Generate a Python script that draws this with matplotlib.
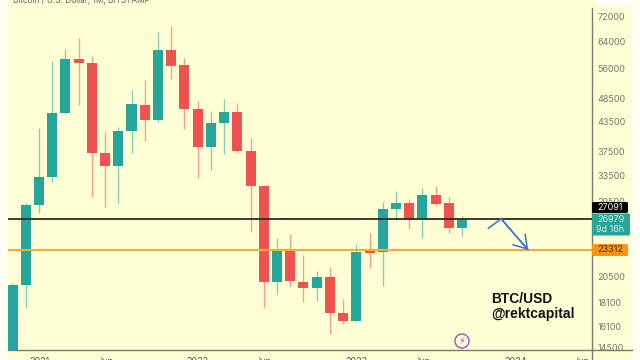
#!/usr/bin/env python3
import matplotlib
matplotlib.use("Agg")
import matplotlib.pyplot as plt
from matplotlib.patches import Circle, FancyBboxPatch, Rectangle
from matplotlib.ticker import FixedLocator, FixedFormatter, NullLocator

plt.rcParams["font.family"] = ["Inter", "DejaVu Sans"]

W, H = 640, 360
BG = "#FFFFD6"
UP = "#26A69A"
DOWN = "#EF5350"
AXIS = "#7A7A70"

# monthly candles, Nov 2020 onwards
opens = [13800, 19665, 28970, 33127, 45167, 58747, 57709, 37322, 34993, 41515,
         47060, 43723, 61366, 57068, 46182, 38417, 43093, 45450, 37573, 31800,
         19953, 23297, 19982, 19382, 20469, 17146, 16495, 23185, 23073, 28413,
         29280, 27031, 30407, 29210, 25877]
closes = [19665, 28970, 33127, 45167, 58747, 57709, 37322, 34993, 41515, 47177,
          43723, 61366, 56866, 46182, 38417, 43154, 45516, 37573, 31717, 19924,
          23297, 20050, 19382, 20469, 17146, 16495, 23073, 23017, 28454, 29210,
          27031, 30407, 29153, 25877, 26979]
highs = [19828, 29295, 41998, 58268, 61755, 64940, 59611, 41314, 42322, 50559,
         53068, 66958, 69036, 58946, 47936, 45737, 48333, 47405, 40013, 31916,
         24655, 25208, 22740, 21044, 21423, 18349, 23949, 25258, 29350, 31002,
         29823, 31408, 31803, 30155, 27465]
lows = [13800, 17566, 27829, 32384, 45000, 47018, 30155, 28647, 29295, 37322,
        39553, 43303, 53325, 41919, 32968, 34320, 37140, 37520, 25419, 17592,
        18765, 19503, 18137, 18199, 15489, 16304, 16450, 21350, 19569, 26940,
        25790, 24727, 28870, 25334, 24930]

y_ticks = [72000, 64000, 56000, 48500, 43500, 37500, 33500, 29500,
           20500, 18100, 16100, 14500]
x_ticks = [2, 7, 14, 19, 26, 31, 38, 43]
x_labels = ["2021", "Jun", "2022", "Jun", "2023", "Jun", "2024", "Jun"]

level_black = 27091
level_orange = 23312
last_price = 26979
countdown = "9d 16h"

arrow_x = [35.97, 36.95, 39.0]
arrow_y = [25866, 27100, 23297]

fig = plt.figure(figsize=(W / 100, H / 100), dpi=100, facecolor="white")

# pixel-coordinate layers, one behind the chart and one on top of it
back = fig.add_axes([0, 0, 1, 1], zorder=0)
back.set_xlim(0, W)
back.set_ylim(H, 0)
back.axis("off")
back.add_patch(Rectangle((0, 0), W, H, facecolor="#FFFFF4", edgecolor="none"))
back.add_patch(Rectangle((7.5, 0), 624.5, H, facecolor=BG, edgecolor="none"))

ax = fig.add_axes([7.5 / W, 1 - 350.3 / H, (591.7 - 7.5) / W, (350.3 - 8) / H], zorder=1)
ax.set_facecolor("none")
ax.set_yscale("log")
ax.set_ylim(14336, 75207)
ax.set_xlim(-0.378, 43.8)

for i in range(len(opens)):
    color = UP if closes[i] >= opens[i] else DOWN
    ax.vlines(i, lows[i], highs[i], color=color, linewidth=1.0, alpha=0.55, zorder=2)
    ax.bar(i, abs(closes[i] - opens[i]), bottom=min(opens[i], closes[i]), width=0.76,
           color=color, edgecolor="none", zorder=3)

ax.axhline(level_black, color="#2B2B24", linewidth=1.3, zorder=4)
ax.axhline(level_orange, color="#F0B030", linewidth=1.5, zorder=4)
ax.plot(arrow_x, arrow_y, color="#3F6FD8", linewidth=1.1, zorder=5, solid_capstyle="round")
ax.annotate("", xy=(arrow_x[2], arrow_y[2]), xytext=(arrow_x[1], arrow_y[1]), zorder=5,
            arrowprops=dict(arrowstyle="->,head_length=0.7,head_width=0.45", mutation_scale=13,
                            color="#3F6FD8", lw=1.1, shrinkA=0, shrinkB=0))

for side in ("top", "left"):
    ax.spines[side].set_visible(False)
for side in ("right", "bottom"):
    ax.spines[side].set_color(AXIS)
    ax.spines[side].set_linewidth(1.0)

ax.yaxis.tick_right()
ax.yaxis.set_major_locator(FixedLocator(y_ticks))
ax.yaxis.set_major_formatter(FixedFormatter([str(v) for v in y_ticks]))
ax.yaxis.set_minor_locator(NullLocator())
ax.tick_params(axis="y", length=0, pad=4, labelsize=6.5, labelcolor="#77776F")
ax.xaxis.set_major_locator(FixedLocator(x_ticks))
ax.xaxis.set_major_formatter(FixedFormatter(x_labels))
ax.tick_params(axis="x", length=0, pad=5, labelsize=6.5, labelcolor="#55554D")

top = fig.add_axes([0, 0, 1, 1], zorder=2)
top.set_xlim(0, W)
top.set_ylim(H, 0)
top.axis("off")
top.set_aspect("equal")

# scale lines run on past the plot corner
top.plot([591.7, 632], [350.3, 350.3], color=AXIS, linewidth=1.0)
top.plot([591.7, 591.7], [350.3, H], color=AXIS, linewidth=1.0)


def px_box(x0, y0, x1, y1, color):
    top.add_patch(FancyBboxPatch((x0, y0), x1 - x0, y1 - y0, boxstyle="round,pad=0,rounding_size=1.5",
                                 facecolor=color, edgecolor="none"))


# price labels on the right scale
px_box(592, 202, 628, 213, "#000000")
top.text(610, 207.5, str(level_black), color="white", fontsize=6.5, ha="center", va="center")
px_box(592, 213.5, 630, 235.5, UP)
top.text(610.5, 219.5, str(last_price), color="#CFF0EC", fontsize=6.5, ha="center", va="center")
top.text(610.5, 229.5, countdown, color="#CFF0EC", fontsize=6.5, ha="center", va="center")
px_box(592, 244, 628, 256, "#F7931A")
top.text(610, 250, str(level_orange), color="#3A3020", fontsize=6.5, ha="center", va="center")

# title clipped by the top edge
top.text(13, 0.5, "Bitcoin / U.S. Dollar, 1M, BITSTAMP", color="#66665E", fontsize=5.9,
         ha="left", va="center")

# white button top right
px_box(595, -3, 630, 5, "white")

top.text(491, 299, "BTC/USD", color="#111111", fontsize=9.9, fontweight="bold",
         family="Liberation Sans", ha="left", va="center")
top.text(491, 314, "@rektcapital", color="#111111", fontsize=10.1, fontweight="bold",
         family="Liberation Sans", ha="left", va="center")

# lightning badge
top.add_patch(Circle((462, 341), 7, facecolor="none", edgecolor="#9C4DC8", linewidth=1.0))
top.text(462, 341, "⚡", color="#9C4DC8", fontsize=7, ha="center", va="center")

fig.savefig("out.png", dpi=100)
